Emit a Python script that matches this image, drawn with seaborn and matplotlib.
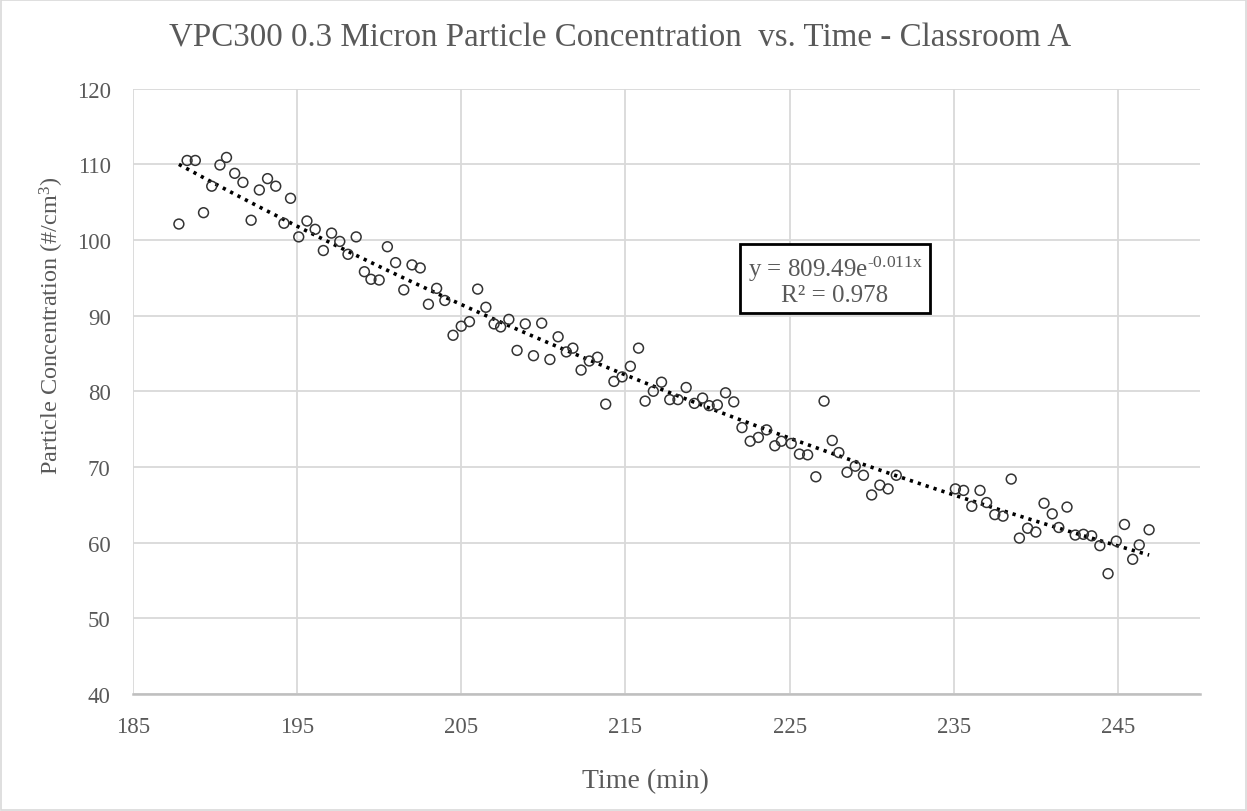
import numpy as np
import pandas as pd
import seaborn as sns
import matplotlib.pyplot as plt
from matplotlib.patches import Rectangle

# readings taken off the chart (time in min, concentration in #/cm3)
time_min = [187.8, 188.3, 188.8, 189.3, 189.8, 190.3, 190.7, 191.2, 191.7, 192.2,
            192.7, 193.2, 193.7, 194.2, 194.6, 195.1, 195.6, 196.1, 196.6, 197.1,
            197.6, 198.1, 198.6, 199.1, 199.5, 200.0, 200.5, 201.0, 201.5, 202.0,
            202.5, 203.0, 203.5, 204.0, 204.5, 205.0, 205.5, 206.0, 206.5, 207.0,
            207.4, 207.9, 208.4, 208.9, 209.4, 209.9, 210.4, 210.9, 211.4, 211.8,
            212.3, 212.8, 213.3, 213.8, 214.3, 214.8, 215.3, 215.8, 216.2, 216.7,
            217.2, 217.7, 218.2, 218.7, 219.2, 219.7, 220.1, 220.6, 221.1, 221.6,
            222.1, 222.6, 223.1, 223.6, 224.1, 224.5, 225.1, 225.6, 226.1, 226.6,
            227.1, 227.6, 228.0, 228.5, 229.0, 229.5, 230.0, 230.5, 231.0, 231.5,
            235.1, 235.6, 236.1, 236.6, 237.0, 237.5, 238.0, 238.5, 239.0, 239.5,
            240.0, 240.5, 241.0, 241.4, 241.9, 242.4, 242.9, 243.4, 243.9, 244.4,
            244.9, 245.4, 245.9, 246.3, 246.9]
conc = [102.1, 110.5, 110.5, 103.6, 107.1, 109.9, 110.9, 108.8, 107.6, 102.6,
        106.6, 108.1, 107.1, 102.2, 105.5, 100.4, 102.5, 101.4, 98.6, 100.9,
        99.8, 98.1, 100.4, 95.8, 94.8, 94.7, 99.1, 97.0, 93.4, 96.7,
        96.3, 91.5, 93.6, 92.0, 87.4, 88.6, 89.2, 93.5, 91.1, 88.9,
        88.5, 89.5, 85.4, 88.9, 84.7, 89.0, 84.2, 87.2, 85.2, 85.7,
        82.8, 84.0, 84.5, 78.3, 81.3, 81.9, 83.3, 85.7, 78.7, 80.0,
        81.2, 78.9, 78.9, 80.5, 78.4, 79.1, 78.1, 78.2, 79.8, 78.6,
        75.2, 73.4, 73.9, 74.9, 72.8, 73.4, 73.1, 71.7, 71.6, 68.7,
        78.7, 73.5, 71.9, 69.3, 70.1, 68.9, 66.3, 67.6, 67.1, 68.9,
        67.1, 66.9, 64.8, 66.9, 65.3, 63.7, 63.5, 68.4, 60.6, 61.9,
        61.4, 65.2, 63.8, 62.0, 64.7, 61.0, 61.1, 60.9, 59.6, 55.9,
        60.2, 62.4, 57.8, 59.7, 61.7]

x_ticks = [185, 195, 205, 215, 225, 235, 245]
y_ticks = [40, 50, 60, 70, 80, 90, 100, 110, 120]
eq_label = 'y = 809.49e$^{\\text{-0.011x}}$\nR² = 0.978'

df = pd.DataFrame({'t': time_min, 'c': conc})

sns.set_theme(style='white')
plt.rcParams['font.family'] = ['Liberation Serif', 'DejaVu Serif']
plt.rcParams['mathtext.fontset'] = 'custom'
plt.rcParams['mathtext.rm'] = 'Liberation Serif'
plt.rcParams['mathtext.it'] = 'Liberation Serif'
plt.rcParams['mathtext.default'] = 'regular'

txt = '#595959'
fig = plt.figure(figsize=(12.47, 8.12), dpi=100)
ax = fig.add_axes([0.1066, 0.1441, 0.8557, 0.7456])

# exponential trendline fitted to the data (like Excel)
b, ln_a = np.polyfit(df['t'], np.log(df['c']), 1)
tt = np.linspace(df['t'].min(), df['t'].max(), 200)
ax.plot(tt, np.exp(ln_a) * np.exp(b * tt), color='black', lw=2.6,
        linestyle=(0, (0.9, 1.4)), zorder=3)

sns.scatterplot(data=df, x='t', y='c', ax=ax, marker='o', s=50,
                facecolor='none', edgecolor='#333333', linewidth=1.1, zorder=4)

ax.set_xlim(185, 250)
ax.set_ylim(40, 120)
ax.set_xticks(x_ticks)
ax.set_yticks(y_ticks)
ax.grid(True, color='#d9d9d9', lw=1.3)
ax.set_axisbelow(True)
for s in ['top', 'right', 'left']:
    ax.spines[s].set_visible(False)
ax.spines['bottom'].set_color('#bfbfbf')
ax.spines['bottom'].set_linewidth(1.8)
ax.tick_params(axis='both', length=0, labelsize=16.5, colors=txt)
ax.tick_params(axis='y', pad=16)
ax.tick_params(axis='x', pad=16)

ax.set_xlabel('Time (min)', fontsize=20, color=txt)
ax.xaxis.set_label_coords(0.48, -0.122)
ax.set_ylabel('Particle Concentration (#/cm$^3$)', fontsize=17.5, color=txt)
ax.yaxis.set_label_coords(-0.063, 0.61)

fig.text(0.497, 0.953, 'VPC300 0.3 Micron Particle Concentration  vs. Time - Classroom A',
         fontsize=23.8, color=txt, ha='center', va='center')

ax.text(0.658, 0.684, eq_label, transform=ax.transAxes, fontsize=18, color=txt,
        ha='center', va='center', linespacing=1.05,
        bbox=dict(boxstyle='square,pad=0.3', fc='white', ec='black', lw=2))

fig.patches.append(Rectangle((0.001, 0.001), 0.998, 0.998, transform=fig.transFigure,
                             fill=False, ec='#d9d9d9', lw=1.2))

fig.savefig('out.png', dpi=100)
